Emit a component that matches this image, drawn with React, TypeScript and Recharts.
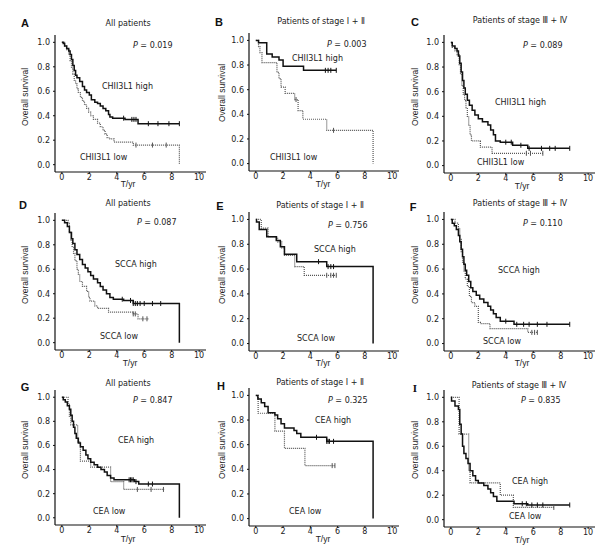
import React from 'react';
import { LineChart, Line, XAxis, YAxis } from 'recharts';

// ---------- DATA ----------
const X_TICKS = [0, 2, 4, 6, 8, 10];
const Y_TICKS = [0, 0.2, 0.4, 0.6, 0.8, 1.0];
const LETTERS = ['A', 'B', 'C', 'D', 'E', 'F', 'G', 'H', 'I'];
const TITLES = ['All patients', 'Patients of stage Ⅰ + Ⅱ', 'Patients of stage Ⅲ + Ⅳ'];
const MARKERS = ['CHII3L1', 'SCCA', 'CEA'];
const P_VALUES = ['0.019', '0.003', '0.089', '0.087', '0.756', '0.110', '0.847', '0.325', '0.835'];

// Kaplan-Meier step points [time, survival]
const A_HIGH = [[0,1],[0.1,0.99],[0.2,0.97],[0.35,0.95],[0.5,0.93],[0.6,0.9],[0.7,0.86],[0.8,0.81],[0.9,0.77],[1.0,0.73],[1.1,0.71],[1.3,0.68],[1.5,0.64],[1.65,0.61],[1.8,0.59],[2.0,0.57],[2.15,0.53],[2.4,0.51],[2.6,0.5],[2.8,0.48],[3.0,0.46],[3.2,0.44],[3.4,0.41],[3.5,0.39],[3.7,0.38],[4.6,0.37],[5.55,0.335],[8.56,0.335]];
const A_HIGH_C = [4.5, 5.1, 5.25, 5.4, 6.3, 7.0, 7.8, 8.56];
const A_LOW = [[0,1],[0.2,0.97],[0.35,0.94],[0.5,0.9],[0.6,0.85],[0.7,0.79],[0.8,0.74],[0.9,0.69],[1.0,0.66],[1.1,0.62],[1.2,0.59],[1.35,0.55],[1.5,0.52],[1.65,0.49],[1.8,0.46],[1.95,0.43],[2.1,0.4],[2.3,0.37],[2.6,0.34],[2.8,0.31],[3.0,0.28],[3.15,0.25],[3.3,0.22],[3.5,0.21],[3.8,0.185],[5.2,0.16],[8.56,0]];
const A_LOW_C = [5.4, 6.6, 7.6];

const B_HIGH = [[0,1],[0.2,0.98],[0.8,0.89],[1.2,0.865],[1.7,0.84],[2.0,0.79],[3.5,0.757],[5.9,0.757]];
const B_HIGH_C = [5.1, 5.3, 5.5, 5.9];
const B_LOW = [[0,1],[0.2,0.95],[0.3,0.9],[0.45,0.82],[1.55,0.74],[1.7,0.69],[1.85,0.62],[2.15,0.57],[2.85,0.52],[3.1,0.43],[3.45,0.36],[5.2,0.27],[8.6,0]];
const B_LOW_C = [2.95, 5.7];

const C_HIGH = [[0,1],[0.1,0.97],[0.3,0.95],[0.45,0.93],[0.55,0.89],[0.65,0.83],[0.75,0.76],[0.85,0.69],[0.95,0.63],[1.05,0.58],[1.2,0.53],[1.35,0.49],[1.55,0.45],[1.75,0.41],[2.0,0.38],[2.3,0.355],[2.7,0.33],[2.9,0.29],[3.1,0.25],[3.25,0.2],[3.6,0.19],[4.5,0.165],[5.6,0.14],[8.66,0.14]];
const C_HIGH_C = [4.0, 4.4, 5.1, 5.7, 6.6, 7.2, 7.6, 8.66];
const C_LOW = [[0,1],[0.1,0.96],[0.3,0.93],[0.45,0.9],[0.6,0.82],[0.7,0.74],[0.8,0.65],[0.9,0.58],[1.0,0.53],[1.1,0.47],[1.2,0.4],[1.3,0.33],[1.4,0.25],[1.5,0.2],[2.15,0.15],[3.0,0.1],[6.7,0.1]];
const C_LOW_C = [5.5, 5.8, 6.7];

const D_HIGH = [[0,1],[0.2,0.98],[0.4,0.95],[0.55,0.9],[0.7,0.85],[0.8,0.81],[0.95,0.76],[1.1,0.72],[1.3,0.68],[1.5,0.64],[1.7,0.61],[1.9,0.58],[2.1,0.55],[2.3,0.52],[2.6,0.49],[2.8,0.46],[3.0,0.43],[3.25,0.4],[3.5,0.37],[3.75,0.355],[4.5,0.345],[5.2,0.32],[8.56,0]];
const D_HIGH_C = [4.4, 5.0, 5.2, 5.35, 5.5, 5.7, 6.0, 6.6, 7.2];
const D_LOW = [[0,1],[0.45,0.98],[0.55,0.91],[0.65,0.84],[0.75,0.78],[0.85,0.73],[0.95,0.67],[1.1,0.6],[1.2,0.56],[1.3,0.5],[1.5,0.46],[1.8,0.42],[1.95,0.37],[2.05,0.34],[2.4,0.3],[2.6,0.28],[3.4,0.25],[5.2,0.235],[5.55,0.195],[6.3,0.195]];
const D_LOW_C = [5.2, 5.35, 5.9, 6.2];

const E_HIGH = [[0,1],[0.05,0.98],[0.25,0.92],[0.8,0.86],[1.5,0.83],[1.8,0.78],[2.1,0.72],[3.0,0.66],[5.2,0.62],[8.6,0]];
const E_HIGH_C = [4.6, 5.3, 5.5, 5.7];
const E_LOW = [[0,1],[0.4,0.93],[0.9,0.86],[1.6,0.82],[1.9,0.77],[2.1,0.71],[2.85,0.62],[3.55,0.55],[5.9,0.55]];
const E_LOW_C = [5.2, 5.5, 5.7, 5.9];

const F_HIGH = [[0,1],[0.1,0.97],[0.25,0.95],[0.4,0.92],[0.55,0.87],[0.65,0.82],[0.75,0.76],[0.85,0.7],[0.95,0.64],[1.05,0.59],[1.15,0.55],[1.3,0.5],[1.45,0.45],[1.6,0.42],[1.85,0.39],[2.1,0.36],[2.4,0.33],[2.7,0.3],[2.9,0.27],[3.1,0.24],[3.3,0.21],[3.6,0.18],[4.6,0.155],[8.66,0.155]];
const F_HIGH_C = [4.0, 4.8, 5.3, 5.7, 6.3, 7.0, 8.66];
const F_LOW = [[0,1],[0.3,0.97],[0.55,0.93],[0.65,0.84],[0.75,0.74],[0.85,0.65],[0.95,0.58],[1.05,0.52],[1.2,0.46],[1.35,0.38],[1.5,0.33],[1.75,0.3],[2.0,0.17],[2.15,0.16],[2.85,0.12],[5.6,0.09],[6.3,0.09]];
const F_LOW_C = [5.9, 6.1, 6.3];

const G_HIGH = [[0,1],[0.1,0.98],[0.25,0.96],[0.4,0.93],[0.55,0.9],[0.65,0.85],[0.75,0.8],[0.85,0.75],[0.95,0.7],[1.05,0.66],[1.2,0.62],[1.35,0.59],[1.55,0.56],[1.75,0.52],[1.9,0.49],[2.1,0.46],[2.35,0.44],[2.6,0.42],[2.85,0.4],[3.1,0.38],[3.3,0.35],[3.55,0.33],[3.8,0.315],[5.3,0.3],[5.6,0.28],[8.56,0]];
const G_HIGH_C = [4.9, 5.0, 5.1, 5.2, 5.4, 6.3, 6.6];
const G_LOW = [[0,1],[0.45,0.95],[0.55,0.84],[0.65,0.77],[1.15,0.63],[1.35,0.47],[2.1,0.42],[3.55,0.3],[4.5,0.235],[7.45,0.235]];
const G_LOW_C = [5.5, 6.5, 7.4];

const H_HIGH = [[0,1],[0.15,0.97],[0.4,0.94],[0.65,0.91],[0.9,0.86],[1.4,0.84],[1.6,0.81],[1.85,0.77],[2.1,0.735],[2.8,0.715],[3.0,0.69],[3.3,0.66],[5.2,0.627],[8.6,0]];
const H_HIGH_C = [4.45, 5.2, 5.3, 5.4, 5.7];
const H_LOW = [[0,1],[0.17,0.855],[1.4,0.71],[2.1,0.57],[3.6,0.43],[5.8,0.43]];
const H_LOW_C = [5.6, 5.8];

const I_HIGH = [[0,1],[0.05,0.97],[0.3,0.93],[0.55,0.9],[0.65,0.78],[0.75,0.7],[0.85,0.6],[0.95,0.54],[1.1,0.5],[1.25,0.46],[1.4,0.4],[1.6,0.36],[1.8,0.32],[2.0,0.3],[2.4,0.28],[2.7,0.25],[2.9,0.22],[3.1,0.19],[3.35,0.15],[4.6,0.13],[5.6,0.12],[8.66,0.12]];
const I_HIGH_C = [5.2, 5.5, 5.9, 6.3, 6.7, 8.66];
const I_LOW = [[0,1],[0.6,0.7],[1.3,0.4],[1.4,0.3],[3.6,0.2],[4.55,0.1],[7.5,0.1]];
const I_LOW_C = [7.5];

const HIGH_CURVES = [A_HIGH, B_HIGH, C_HIGH, D_HIGH, E_HIGH, F_HIGH, G_HIGH, H_HIGH, I_HIGH];
const HIGH_CENS = [A_HIGH_C, B_HIGH_C, C_HIGH_C, D_HIGH_C, E_HIGH_C, F_HIGH_C, G_HIGH_C, H_HIGH_C, I_HIGH_C];
const LOW_CURVES = [A_LOW, B_LOW, C_LOW, D_LOW, E_LOW, F_LOW, G_LOW, H_LOW, I_LOW];
const LOW_CENS = [A_LOW_C, B_LOW_C, C_LOW_C, D_LOW_C, E_LOW_C, F_LOW_C, G_LOW_C, H_LOW_C, I_LOW_C];

// ---------- LAYOUT ----------
const PLOTS = [
  { x: 55, y: 35, w: 151, h: 137 },
  { x: 249, y: 33, w: 150, h: 138 },
  { x: 444, y: 35, w: 151, h: 138 },
  { x: 55, y: 213, w: 151, h: 137 },
  { x: 249, y: 212, w: 150, h: 139 },
  { x: 444, y: 212, w: 151, h: 139 },
  { x: 55, y: 390, w: 151, h: 135 },
  { x: 249, y: 388, w: 150, h: 138 },
  { x: 444, y: 390, w: 151, h: 137 },
];
const TEXTPOS = [
  { letter: [25, 23], title: [128, 24], p: [133, 46], high: [102, 87], low: [80, 158], ylab: [25, 97], xlab: [128, 184] },
  { letter: [219, 22], title: [321, 22], p: [327, 45], high: [292, 59], low: [270, 158], ylab: [222, 93], xlab: [323, 184] },
  { letter: [415, 22], title: [520, 21], p: [523, 46], high: [495, 103], low: [477, 163], ylab: [415, 97], xlab: [522, 186] },
  { letter: [23, 205], title: [128, 204], p: [137, 223], high: [115, 265], low: [100, 337], ylab: [25, 275], xlab: [130, 363] },
  { letter: [220, 206], title: [320, 206], p: [328, 226], high: [314, 250], low: [297, 339], ylab: [222, 275], xlab: [323, 363] },
  { letter: [413, 207], title: [520, 204], p: [523, 224], high: [498, 271], low: [483, 342], ylab: [415, 275], xlab: [522, 363] },
  { letter: [25, 387], title: [128, 384], p: [133, 401], high: [118, 441], low: [93, 512], ylab: [25, 450], xlab: [128, 539] },
  { letter: [221, 386], title: [320, 383], p: [328, 401], high: [315, 421], low: [289, 512], ylab: [222, 450], xlab: [323, 539] },
  { letter: [415, 388], title: [519, 386], p: [521, 401], high: [512, 482], low: [509, 517], ylab: [415, 450], xlab: [522, 540] },
];

const FONT = '"DejaVu Sans", Verdana, sans-serif';
const LEFT_PAD = 35;
const TOP_PAD = 5;
const RIGHT_PAD = 5;
const BOTTOM_PAD = 20;

function buildSeries(steps: number[][], cens: number[]) {
  const pts = steps.map(([t, s]) => ({ t, s, c: 0 }));
  const valueAt = (c: number) => {
    let v = steps[0][1];
    for (const [t, s] of steps) if (t <= c + 1e-9) v = s;
    return v;
  };
  cens.forEach((c) => pts.push({ t: c, s: valueAt(c), c: 1 }));
  pts.sort((a, b) => (a.t - b.t) || (a.c - b.c));
  return pts;
}

const makeDot = (color: string) => (props: any) => {
  const { cx, cy, payload, index } = props;
  if (!payload || !payload.c || cx == null || cy == null) return <g key={'d' + index} />;
  return <line key={'d' + index} x1={cx} x2={cx} y1={cy - 2.5} y2={cy + 2.5} stroke={color} strokeWidth={1} />;
};

function Panel({ idx }: { idx: number }) {
  const plot = PLOTS[idx];
  const high = buildSeries(HIGH_CURVES[idx], HIGH_CENS[idx]);
  const low = buildSeries(LOW_CURVES[idx], LOW_CENS[idx]);
  const tickStyle = { fontSize: 8, fill: '#222', fontFamily: FONT };
  return (
    <div style={{ position: 'absolute', left: plot.x - LEFT_PAD, top: plot.y - TOP_PAD }}>
      <LineChart
        width={plot.w + LEFT_PAD + RIGHT_PAD}
        height={plot.h + TOP_PAD + BOTTOM_PAD}
        margin={{ top: TOP_PAD, right: RIGHT_PAD, bottom: 0, left: 0 }}
      >
        <XAxis
          type="number"
          dataKey="t"
          domain={[-0.5, 10.5]}
          allowDataOverflow
          ticks={X_TICKS}
          height={BOTTOM_PAD}
          tickSize={2}
          tickMargin={0}
          tick={tickStyle}
          axisLine={{ stroke: '#111', strokeWidth: 1.2 }}
          tickLine={{ stroke: '#111' }}
          interval={0}
        />
        <YAxis
          type="number"
          dataKey="s"
          domain={[-0.06, 1.06]}
          allowDataOverflow
          ticks={Y_TICKS}
          tickFormatter={(v: number) => v.toFixed(1)}
          width={LEFT_PAD}
          tickSize={2}
          tickMargin={3}
          tick={tickStyle}
          axisLine={{ stroke: '#111', strokeWidth: 1.2 }}
          tickLine={{ stroke: '#111' }}
          interval={0}
        />
        <Line
          data={low}
          dataKey="s"
          type="stepAfter"
          stroke="#555"
          strokeWidth={1.2}
          strokeDasharray="1 1"
          dot={makeDot('#555')}
          activeDot={false}
          isAnimationActive={false}
        />
        <Line
          data={high}
          dataKey="s"
          type="stepAfter"
          stroke="#111"
          strokeWidth={1.5}
          dot={makeDot('#111')}
          activeDot={false}
          isAnimationActive={false}
        />
      </LineChart>
    </div>
  );
}

const textBase: React.CSSProperties = {
  position: 'absolute',
  whiteSpace: 'nowrap',
  fontFamily: FONT,
  fontSize: 8,
  lineHeight: '10px',
  color: '#222',
};

function PanelText({ idx }: { idx: number }) {
  const tp = TEXTPOS[idx];
  const col = idx % 3;
  const row = Math.floor(idx / 3);
  const letter = LETTERS[idx];
  return (
    <>
      <div
        style={{
          ...textBase,
          left: tp.letter[0],
          top: tp.letter[1],
          transform: 'translate(-50%, -50%)',
          fontSize: 11,
          lineHeight: '12px',
          fontWeight: 'bold',
          color: '#111',
          fontFamily: letter === 'I' ? '"Liberation Serif", serif' : '"Liberation Sans", Arial, sans-serif',
        }}
      >
        {letter}
      </div>
      <div style={{ ...textBase, left: tp.title[0], top: tp.title[1], transform: 'translate(-50%, -50%)' }}>
        {TITLES[col]}
      </div>
      <div style={{ ...textBase, left: tp.p[0], top: tp.p[1], transform: 'translateY(-50%)' }}>
        <span style={{ fontStyle: 'italic' }}>P</span> = {P_VALUES[idx]}
      </div>
      <div style={{ ...textBase, left: tp.high[0], top: tp.high[1], transform: 'translateY(-50%)' }}>
        {MARKERS[row]} high
      </div>
      <div style={{ ...textBase, left: tp.low[0], top: tp.low[1], transform: 'translateY(-50%)' }}>
        {MARKERS[row]} low
      </div>
      <div
        style={{
          ...textBase,
          left: tp.ylab[0],
          top: tp.ylab[1],
          transform: 'translate(-50%, -50%) rotate(-90deg)',
          fontFamily: '"Liberation Sans", Arial, sans-serif',
          fontSize: 8.5,
        }}
      >
        Overall survival
      </div>
      <div
        style={{
          ...textBase,
          left: tp.xlab[0],
          top: tp.xlab[1],
          transform: 'translate(-50%, -50%)',
          fontFamily: '"Liberation Sans", Arial, sans-serif',
          fontSize: 8.5,
        }}
      >
        T/yr
      </div>
    </>
  );
}

export default function App() {
  const idxs = [0, 1, 2, 3, 4, 5, 6, 7, 8];
  return (
    <div style={{ position: 'absolute', left: 0, top: 0, width: 616, height: 557, background: '#fff', overflow: 'hidden' }}>
      {idxs.map((i) => (
        <Panel key={'p' + i} idx={i} />
      ))}
      {idxs.map((i) => (
        <PanelText key={'t' + i} idx={i} />
      ))}
    </div>
  );
}
